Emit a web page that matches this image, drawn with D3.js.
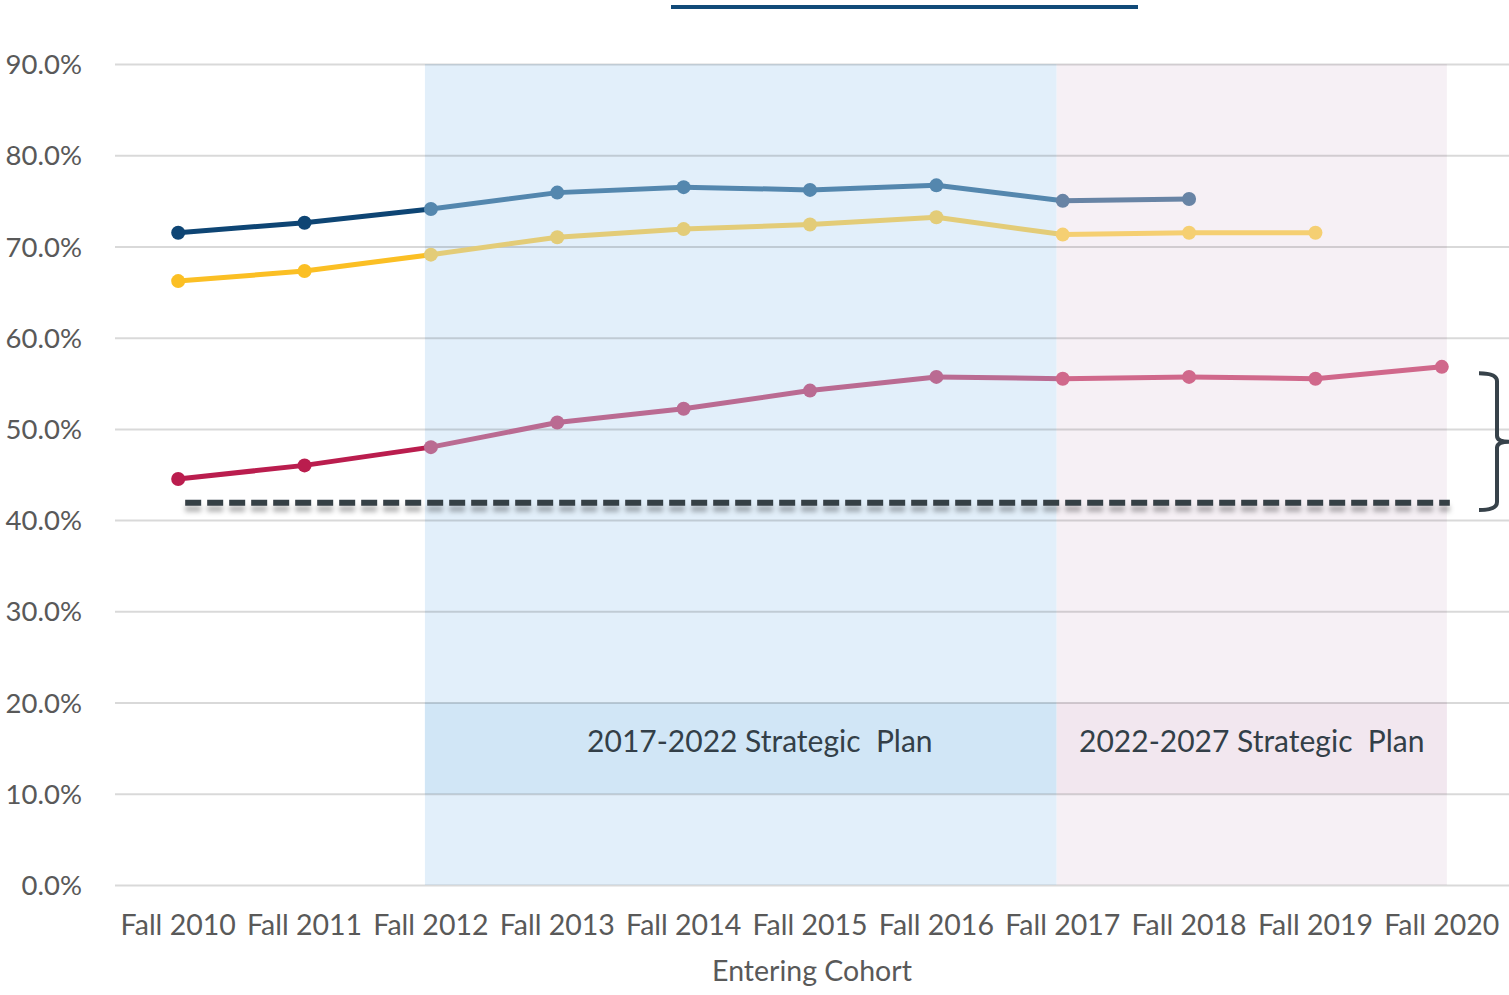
<!DOCTYPE html>
<html>
<head>
<meta charset="utf-8">
<script src="https://cdn.jsdelivr.net/npm/d3@7"></script>
<style>
  html, body { margin: 0; padding: 0; background: #fff; }
  svg { display: block; font-family: Lato, "Open Sans", sans-serif; }
</style>
</head>
<body>
<svg id="chart" width="1509" height="995"></svg>
<script>
"use strict";

// entering cohorts along the x axis
var cohorts = ["Fall 2010", "Fall 2011", "Fall 2012", "Fall 2013", "Fall 2014", "Fall 2015",
               "Fall 2016", "Fall 2017", "Fall 2018", "Fall 2019", "Fall 2020"];

// graduation rates (%) by cohort
var grad6 = [71.5, 72.6, 74.1, 75.9, 76.5, 76.2, 76.7, 75.0, 75.2];
var grad5 = [66.2, 67.3, 69.1, 71.0, 71.9, 72.4, 73.2, 71.3, 71.5, 71.5];
var grad4 = [44.5, 46.0, 48.0, 50.7, 52.2, 54.2, 55.7, 55.5, 55.7, 55.5, 56.8];

// reference level (dashed) and bracket range
var baseline = 41.9;
var bracketRange = [56.1, 41.1];

// y ticks
var yTicks = [0, 10, 20, 30, 40, 50, 60, 70, 80, 90];

// strategic plan periods: first / last cohort covered
var plans = [
  {label: "2017-2022 Strategic\u00a0\u00a0Plan", from: "Fall 2012", to: "Fall 2017"},
  {label: "2022-2027 Strategic\u00a0\u00a0Plan", from: "Fall 2017", to: "Fall 2020"}
];

// which colour period a cohort falls in (0 = before plans, 1 = first plan, 2 = second plan)
var period = [0, 0, 1, 1, 1, 1, 1, 2, 2, 2, 2];

var Draw = (function() {

  var width = 1509, height = 995;
  var svg = d3.select("#chart");

  var x = d3.scaleBand().domain(cohorts).range([115, 1505]);
  var y = d3.scaleLinear().domain([0, 90]).range([885, 64]);
  var cx = d => x(d) + x.bandwidth() / 2;

  var series = [
    {values: grad6, colors: ["#0e4574", "#5487ae", "#6884a5"]},
    {values: grad5, colors: ["#fbbf24", "#e3cc78", "#f5cf72"]},
    {values: grad4, colors: ["#ba1d4e", "#ba6b92", "#d0688b"]}
  ];

  var defs = svg.append("defs");
  var shadow = defs.append("filter").attr("id", "shadow")
      .attr("filterUnits", "userSpaceOnUse")
      .attr("x", 0).attr("y", 0).attr("width", width).attr("height", height);
  shadow.append("feDropShadow")
      .attr("dx", 0).attr("dy", 6).attr("stdDeviation", 2.5)
      .attr("flood-color", "#000").attr("flood-opacity", 0.3);

  // plan shading
  var planFill = [["#e2effa", "#d1e6f6"], ["#f6f0f5", "#f2e7ef"]];
  var planX0 = [cx(plans[0].from) - 6, cx(plans[1].from) - 6];
  var planX1 = [cx(plans[0].to) - 6, cx(plans[1].to) + 5];
  var labelShift = [19, 0];

  plans.forEach(function(p, i) {
    svg.append("rect")
        .attr("x", planX0[i]).attr("width", planX1[i] - planX0[i])
        .attr("y", y(90)).attr("height", y(0) - y(90))
        .attr("fill", planFill[i][0]);
    svg.append("rect")
        .attr("x", planX0[i]).attr("width", planX1[i] - planX0[i])
        .attr("y", y(20)).attr("height", y(10) - y(20))
        .attr("fill", planFill[i][1]);
  });

  // y axis + gridlines
  var yAxis = svg.append("g")
      .attr("transform", "translate(115,0)")
      .call(d3.axisLeft(y).tickValues(yTicks).tickSize(-(width - 115))
        .tickFormat(d => d.toFixed(1) + "%"));
  yAxis.select(".domain").remove();
  yAxis.selectAll(".tick line").attr("stroke", "#000").attr("stroke-opacity", 0.15).attr("stroke-width", 2);
  yAxis.selectAll(".tick text")
      .attr("x", -33).attr("dy", "0.35em")
      .attr("fill", "#595959").attr("font-size", 27.5)
      .attr("font-family", "Lato, sans-serif");

  // x axis labels
  var xAxis = svg.append("g")
      .attr("transform", "translate(0," + y(0) + ")")
      .call(d3.axisBottom(x).tickSize(0).tickPadding(0));
  xAxis.select(".domain").remove();
  xAxis.selectAll(".tick text")
      .attr("y", 40).attr("dy", "0.35em")
      .attr("fill", "#595959").attr("font-size", 28.5)
      .attr("font-family", "Lato, sans-serif");

  svg.append("text")
      .attr("x", 812).attr("y", 971).attr("dy", "0.35em")
      .attr("text-anchor", "middle")
      .attr("fill", "#595959").attr("font-size", 28.5)
      .text("Entering Cohort");

  // plan labels
  plans.forEach(function(p, i) {
    svg.append("text")
        .attr("x", (planX0[i] + planX1[i]) / 2 + labelShift[i])
        .attr("y", y(15) - 7).attr("dy", "0.35em")
        .attr("text-anchor", "middle")
        .attr("fill", "#333f48").attr("font-size", 30)
        .text(p.label);
  });

  // dashed reference line
  svg.append("line")
      .attr("x1", cx(cohorts[0]) + 7).attr("x2", cx(cohorts[10]) + 8)
      .attr("y1", y(baseline)).attr("y2", y(baseline))
      .attr("stroke", "#363f45").attr("stroke-width", 6)
      .attr("stroke-dasharray", "16 6")
      .attr("filter", "url(#shadow)");

  // series lines and markers, coloured by period
  series.forEach(function(s) {
    var pts = s.values.map((v, i) => ({x: cx(cohorts[i]), y: y(v), p: period[i]}));
    var segs = d3.pairs(pts);
    svg.append("g").selectAll("line")
      .data(segs)
      .join("line")
        .attr("x1", d => d[0].x).attr("y1", d => d[0].y)
        .attr("x2", d => d[1].x).attr("y2", d => d[1].y)
        .attr("stroke", d => s.colors[d[1].p === 0 ? 0 : d[0].p])
        .attr("stroke-width", 5)
        .attr("stroke-linecap", "round");
    svg.append("g").selectAll("circle")
      .data(pts)
      .join("circle")
        .attr("cx", d => d.x).attr("cy", d => d.y)
        .attr("r", 7)
        .attr("fill", d => s.colors[d.p]);
  });

  // bracket on the right
  var bx = 1497, by0 = y(bracketRange[0]), by1 = y(bracketRange[1]), bm = (by0 + by1) / 2;
  svg.append("path")
      .attr("d", `M${bx - 18},${by0} Q${bx},${by0} ${bx},${by0 + 8} L${bx},${bm - 6} Q${bx},${bm} ${bx + 12},${bm}` +
                 ` Q${bx},${bm} ${bx},${bm + 6} L${bx},${by1 - 8} Q${bx},${by1} ${bx - 18},${by1}`)
      .attr("fill", "none").attr("stroke", "#37424a").attr("stroke-width", 4);

  // title rule at top
  svg.append("rect")
      .attr("x", 671).attr("y", 5).attr("width", 467).attr("height", 4)
      .attr("fill", "#114a78");
});

Draw();
</script>
</body>
</html>
